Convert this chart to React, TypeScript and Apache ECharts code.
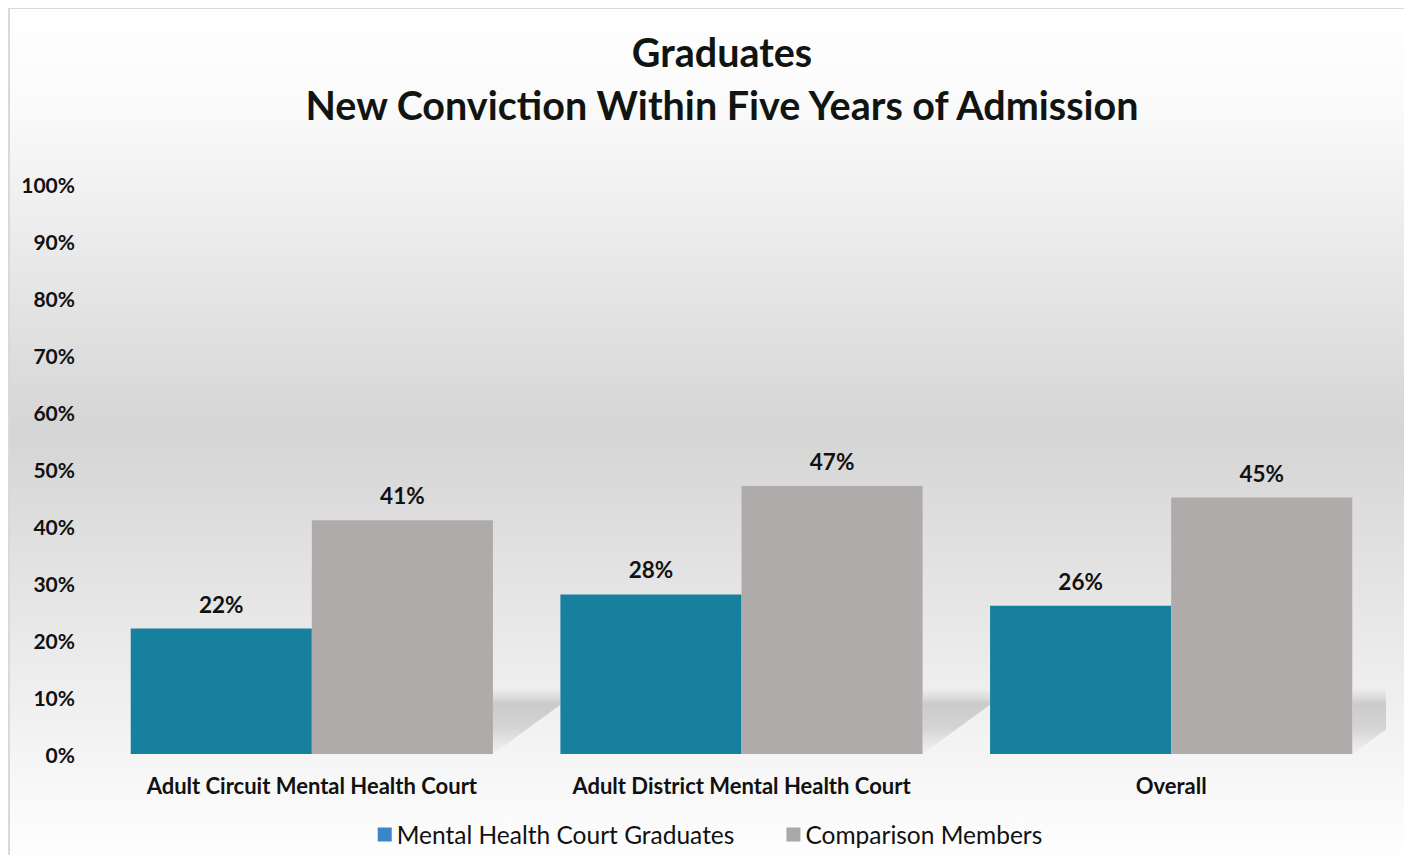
import React, { useEffect, useRef } from "react";
import * as echarts from "echarts";

const titleLines = ["Graduates", "New Conviction Within Five Years of Admission"];
const categories = [
  "Adult Circuit Mental Health Court",
  "Adult District Mental Health Court",
  "Overall",
];
const seriesNames = ["Mental Health Court Graduates", "Comparison Members"];
const graduates = [22, 28, 26];
const comparison = [41, 47, 45];
const yTicks = { min: 0, max: 100, interval: 10 };

const FONT = "Lato, 'Open Sans', sans-serif";
const BAR_GAP_RATIO = 0.157;

export default function App() {
  const ref = useRef<HTMLDivElement>(null);
  useEffect(() => {
    if (!ref.current) return;
    const chart = echarts.init(ref.current, undefined, { renderer: "svg" });
    const labelStyle = {
      show: true,
      position: "top",
      distance: 13,
      formatter: "{c}%",
      fontFamily: FONT,
      fontWeight: "bold",
      fontSize: 22.5,
      color: "#111",
    };
    const option: any = {
      animation: false,
      backgroundColor: {
        type: "linear",
        x: 0,
        y: 0,
        x2: 0,
        y2: 1,
        colorStops: [
          { offset: 0, color: "#ffffff" },
          { offset: 0.12, color: "#fafafa" },
          { offset: 0.5, color: "#d5d5d5" },
          { offset: 0.85, color: "#f2f2f2" },
          { offset: 1, color: "#fefefe" },
        ],
      },
      title: {
        text: titleLines.join("\n"),
        left: 709,
        textAlign: "center",
        top: 12,
        textStyle: {
          fontFamily: FONT,
          fontWeight: "bold",
          fontSize: 39.5,
          lineHeight: 53,
          color: "#111511",
        },
      },
      graphic: [
        {
          type: "line",
          shape: { x1: 0, y1: 0, x2: 1404, y2: 0 },
          style: { stroke: "#d9d9d9", lineWidth: 2 },
          silent: true,
        },
        {
          type: "line",
          shape: { x1: 1, y1: 0, x2: 1, y2: 847 },
          style: { stroke: "#d9d9d9", lineWidth: 2 },
          silent: true,
        },
      ],
      legend: {
        bottom: 3,
        left: "center",
        itemWidth: 14,
        itemHeight: 14,
        itemGap: 52,
        icon: "rect",
        textStyle: { fontFamily: FONT, fontSize: 24.5, color: "#111" },
        data: [
          { name: seriesNames[0], itemStyle: { color: "#3a86c8" } },
          { name: seriesNames[1], itemStyle: { color: "#aaa8a8" } },
        ],
      },
      grid: { left: 89, right: 26, top: 176, bottom: 101 },
      xAxis: {
        type: "category",
        data: categories,
        axisLine: { show: false },
        axisTick: { show: false },
        axisLabel: {
          interval: 0,
          hideOverlap: false,
          margin: 20,
          fontFamily: FONT,
          fontWeight: "bold",
          fontSize: 22,
          color: "#111",
        },
      },
      yAxis: {
        type: "value",
        min: yTicks.min,
        max: yTicks.max,
        interval: yTicks.interval,
        splitLine: { show: false },
        axisLine: { show: false },
        axisTick: { show: false },
        axisLabel: {
          margin: 22,
          formatter: "{value}%",
          fontFamily: FONT,
          fontWeight: "bold",
          fontSize: 21,
          color: "#111",
        },
      },
      series: [
        {
          type: "custom",
          name: "shadow",
          silent: true,
          z: 1,
          clip: true,
          data: categories.map((_, i) => [i]),
          renderItem: (params: any, api: any) => {
            const idx = api.value(0);
            const base = api.coord([idx, 0]);
            const band = api.size([1, 0])[0];
            const half = (band * (1 - BAR_GAP_RATIO)) / 2;
            const xr = base[0] + half;
            const w = band * BAR_GAP_RATIO;
            const top = api.coord([idx, 11.3])[1];
            const yb = base[1];
            const cs = params.coordSys;
            const right = Math.min(xr + w, cs.x + cs.width + 3);
            const ww = right - xr;
            return {
              type: "polygon",
              shape: {
                points: [
                  [xr, top],
                  [right, top],
                  [right, yb - 0.73 * ww],
                  [xr, yb],
                ],
              },
              style: {
                fill: {
                  type: "linear",
                  x: 0,
                  y: 0,
                  x2: 0,
                  y2: 1,
                  colorStops: [
                    { offset: 0, color: "rgba(200,200,200,0.1)" },
                    { offset: 0.22, color: "rgba(178,178,178,0.6)" },
                    { offset: 0.6, color: "rgba(188,188,188,0.55)" },
                    { offset: 1, color: "rgba(220,220,220,0.2)" },
                  ],
                },
              },
            };
          },
        },
        {
          type: "bar",
          name: seriesNames[0],
          data: graduates,
          z: 2,
          barGap: "0%",
          barCategoryGap: BAR_GAP_RATIO * 100 + "%",
          itemStyle: { color: "#18809f" },
          label: labelStyle,
        },
        {
          type: "bar",
          name: seriesNames[1],
          data: comparison,
          z: 2,
          barGap: "0%",
          barCategoryGap: BAR_GAP_RATIO * 100 + "%",
          itemStyle: { color: "#afabab" },
          label: labelStyle,
        },
      ],
    };
    chart.setOption(option);
    return () => chart.dispose();
  }, []);
  return <div ref={ref} style={{ width: 1404, height: 847 }} />;
}
